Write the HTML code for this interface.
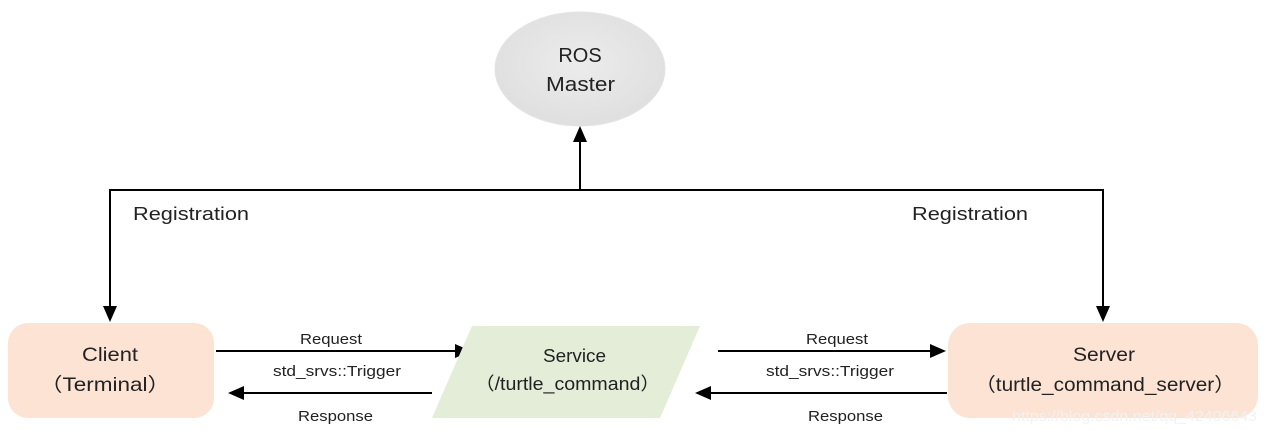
<!DOCTYPE html>
<html><head><style>
html,body{margin:0;padding:0;background:#fff;}
svg{display:block;}
text{font-family:"Liberation Sans","Noto Sans CJK SC",sans-serif;fill:#222;}
</style></head><body>
<svg width="1267" height="434" viewBox="0 0 1267 434" xmlns="http://www.w3.org/2000/svg">
<defs>
<radialGradient id="g" cx="50%" cy="45%" r="60%"><stop offset="0" stop-color="#ececec"/><stop offset="1" stop-color="#dedede"/></radialGradient>
</defs>
<ellipse cx="580" cy="69" rx="85" ry="57" fill="url(#g)" stroke="#e4e4e4"/>
<text x="580" y="62" font-size="20" text-anchor="middle">ROS</text>
<text x="546" y="91" font-size="20" textLength="69" lengthAdjust="spacingAndGlyphs">Master</text>
<g stroke="#000" stroke-width="2" fill="none">
<line x1="580" y1="190" x2="580" y2="140"/>
<polyline points="110,310 110,190 1103,190 1103,310"/>
<line x1="216" y1="351" x2="456" y2="351"/>
<line x1="432" y1="393" x2="242" y2="393"/>
<line x1="718" y1="351" x2="932" y2="351"/>
<line x1="947" y1="393" x2="710" y2="393"/>
</g>
<g fill="#000">
<polygon points="580,126 573,142 587,142"/>
<polygon points="110,322 103,306 117,306"/>
<polygon points="1103,322 1096,306 1110,306"/>
<polygon points="471,351 455,344 455,358"/>
<polygon points="228,393 244,386 244,400"/>
<polygon points="946,351 930,344 930,358"/>
<polygon points="695,393 711,386 711,400"/>
</g>
<text x="133" y="220" font-size="18" textLength="116" lengthAdjust="spacingAndGlyphs">Registration</text>
<text x="912" y="220" font-size="18" textLength="116" lengthAdjust="spacingAndGlyphs">Registration</text>
<rect x="8" y="323" width="206" height="95" rx="20" fill="#fce3d3"/>
<text x="82" y="361" font-size="19" textLength="56" lengthAdjust="spacingAndGlyphs">Client</text>
<text x="40" y="391" font-size="19" textLength="130" lengthAdjust="spacingAndGlyphs">（Terminal）</text>
<polygon points="472,326 700,326 660,418 432,418" fill="#e3edd8"/>
<text x="543" y="362" font-size="18" textLength="63" lengthAdjust="spacingAndGlyphs">Service</text>
<text x="475" y="390" font-size="18" textLength="185" lengthAdjust="spacingAndGlyphs">（/turtle_command）</text>
<rect x="948" y="323" width="310" height="95" rx="22" fill="#fce3d3"/>
<text x="1073" y="361" font-size="19" textLength="62" lengthAdjust="spacingAndGlyphs">Server</text>
<text x="975" y="391" font-size="19" textLength="260" lengthAdjust="spacingAndGlyphs">（turtle_command_server）</text>
<text x="300" y="344" font-size="15" textLength="62" lengthAdjust="spacingAndGlyphs">Request</text>
<text x="273" y="376" font-size="15" textLength="128" lengthAdjust="spacingAndGlyphs">std_srvs::Trigger</text>
<text x="298" y="421" font-size="15" textLength="75" lengthAdjust="spacingAndGlyphs">Response</text>
<text x="806" y="344" font-size="15" textLength="62" lengthAdjust="spacingAndGlyphs">Request</text>
<text x="766" y="376" font-size="15" textLength="128" lengthAdjust="spacingAndGlyphs">std_srvs::Trigger</text>
<text x="808" y="421" font-size="15" textLength="75" lengthAdjust="spacingAndGlyphs">Response</text>
<text x="1012" y="421" font-size="15" style="fill:#f2f2f2" textLength="245" lengthAdjust="spacingAndGlyphs">https://blog.csdn.net/qq_42406643</text>
</svg>
</body></html>
